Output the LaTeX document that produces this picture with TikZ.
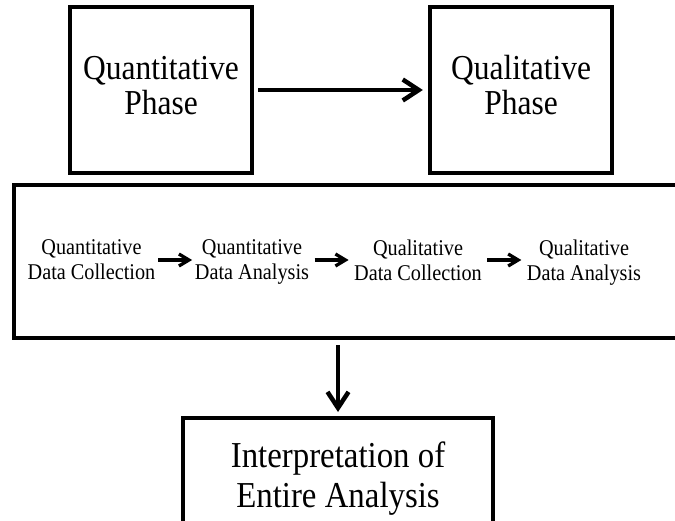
\documentclass[tikz,border=0pt]{standalone}
\usepackage{fontspec}
\setmainfont{Liberation Serif}
\newfontfamily\narrowserif[FakeStretch=0.9]{Liberation Serif}
\usetikzlibrary{arrows.meta,calc}
\begin{document}
\begin{tikzpicture}[x=1pt, y=-1pt]
    \tikzset{
      phasebox/.style={draw, line width=3.3pt, minimum width=182pt, minimum height=166pt,
        align=center, text depth=10pt, font=\narrowserif\fontsize{35}{35}\selectfont},
      stepnode/.style={align=center, inner sep=1pt, text depth=0pt,
        font=\narrowserif\fontsize{22.5}{25}\selectfont},
      bigarrow/.style={line width=4.5pt, -{Straight Barb[length=16pt, width=21pt]}},
      smallarrow/.style={line width=3.3pt, -{Straight Barb[length=10pt, width=12pt]}},
    }
    \clip (0,0) rectangle (675,520);

    % the two phases
    \node[phasebox] (quan) at (161,90) {Quantitative\\Phase};
    \node[phasebox] (qual) at (521,90) {Qualitative\\Phase};
    \draw[bigarrow, shorten <=4.5pt, shorten >=5.5pt] (quan) -- (qual);

    % the steps
    \draw[line width=3.3pt] (700,185) -- (14,185) -- (14,338) -- (700,338);
    \coordinate (band-s) at (338,338);
    \foreach \x/\name/\top/\bot in {
      91.5/s1/Quantitative/Data Collection,
      252/s2/Quantitative/Data Analysis,
      418/s3/Qualitative/Data Collection,
      584/s4/Qualitative/Data Analysis
    } \node[stepnode] (\name) at (\x,260) {\top\\\bot};
    \foreach \a/\b in {s1/s2,s2/s3,s3/s4}
      \draw[smallarrow] ($(\a.east)!.5!(\b.west)+(-17,0)$) -- ($(\a.east)!.5!(\b.west)+(17,0)$);

    % interpretation
    \node[draw, line width=3.3pt, outer sep=0pt, minimum width=310pt, minimum height=140pt,
      anchor=north, align=center, text depth=27pt,
      font=\narrowserif\fontsize{36.5}{40}\selectfont] (interp) at (338,418)
      {Interpretation of\\Entire Analysis};
    \draw[bigarrow, shorten <=7pt, shorten >=6pt] (band-s) -- (interp);
  \end{tikzpicture}
\end{document}
